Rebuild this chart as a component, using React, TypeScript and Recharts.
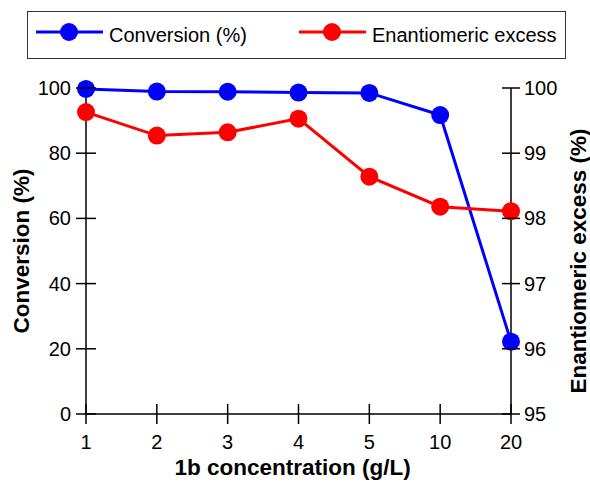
import { Line, LineChart, XAxis, YAxis } from 'recharts';

const concentrations = ['1', '2', '3', '4', '5', '10', '20'];
const conversionValues = [99.7, 98.9, 98.85, 98.6, 98.5, 91.7, 22.2];
const eeValues = [99.63, 99.27, 99.32, 99.53, 98.64, 98.18, 98.11];
const conversionTicks = [0, 20, 40, 60, 80, 100];
const eeTicks = [95, 96, 97, 98, 99, 100];
const seriesNames = ['Conversion (%)', 'Enantiomeric excess'];
const seriesColors = ['#0000ff', '#ff0000'];

const data = concentrations.map((c, i) => ({
  conc: c,
  conversion: conversionValues[i],
  ee: eeValues[i],
}));

const FONT = '"Liberation Sans", Arial, sans-serif';
const INK = '#000';
const TICK_FONT = 20;
const TITLE_FONT = 22.5;

const XTick = ({ x, y, payload }: any) => (
  <g>
    <line x1={x} x2={x} y1={y - 10} y2={y + 10} stroke={INK} strokeWidth={1.5} />
    <text x={x} y={y + 28} textAnchor="middle" dominantBaseline="central" fontSize={TICK_FONT} fontFamily={FONT} fill={INK}>
      {payload.value}
    </text>
  </g>
);

const LeftTick = ({ x, y, payload }: any) => (
  <g>
    <line x1={x - 10} x2={x + 10} y1={y} y2={y} stroke={INK} strokeWidth={1.5} />
    <text x={x - 15} y={y} textAnchor="end" dominantBaseline="central" fontSize={TICK_FONT} fontFamily={FONT} fill={INK}>
      {payload.value}
    </text>
  </g>
);

const RightTick = ({ x, y, payload }: any) => (
  <g>
    <line x1={x - 9} x2={x + 9} y1={y} y2={y} stroke={INK} strokeWidth={1.5} />
    <text x={x + 13} y={y} textAnchor="start" dominantBaseline="central" fontSize={TICK_FONT} fontFamily={FONT} fill={INK}>
      {payload.value}
    </text>
  </g>
);

const axisTitle = (text: string, dx: number, rotate: boolean, dy = 0) => ({ viewBox }: any) => {
  const cx = viewBox.x + dx;
  const cy = rotate ? viewBox.y + viewBox.height / 2 + dy : viewBox.y + dy;
  return (
    <text
      x={cx}
      y={cy}
      textAnchor="middle"
      dominantBaseline="central"
      fontSize={TITLE_FONT}
      fontWeight="bold"
      fontFamily={FONT}
      fill={INK}
      transform={rotate ? `rotate(-90 ${cx} ${cy})` : undefined}
    >
      {text}
    </text>
  );
};

const LegendBox = () => (
  <div
    style={{
      position: 'absolute',
      left: 27,
      top: 11,
      width: 539,
      height: 48,
      border: '1.5px solid #333',
      boxSizing: 'border-box',
      fontFamily: FONT,
      fontSize: 20,
      color: INK,
    }}
  >
    {seriesNames.map((name, i) => {
      const left = i === 0 ? 8 : 271;
      return (
        <div key={name} style={{ position: 'absolute', left, top: 0, height: 44, display: 'flex', alignItems: 'center' }}>
          <svg width={68} height={24} style={{ marginTop: -5 }}>
            <line x1={0} x2={67} y1={12} y2={12} stroke={seriesColors[i]} strokeWidth={3} />
            <circle cx={33} cy={12} r={9} fill={seriesColors[i]} />
          </svg>
          <span style={{ marginLeft: 5, marginTop: 2 }}>{name}</span>
        </div>
      );
    })}
  </div>
);

export default function App() {
  return (
    <div style={{ position: 'absolute', left: 0, top: 0, width: 590, height: 483, background: '#fff' }}>
      <LineChart width={590} height={483} data={data} margin={{ top: 88, right: 0, bottom: 0, left: 0 }}>
        <XAxis
          dataKey="conc"
          interval={0}
          height={69}
          tickSize={0}
          tickMargin={0}
          tickLine={false}
          axisLine={{ stroke: INK, strokeWidth: 1.5 }}
          tick={<XTick />}
          label={{ content: axisTitle('1b concentration (g/L)', 212.5 - 6, false, 53) }}
        />
        <YAxis
          yAxisId="left"
          width={86}
          domain={[0, 100]}
          ticks={conversionTicks}
          tickSize={0}
          tickMargin={0}
          tickLine={false}
          axisLine={{ stroke: INK, strokeWidth: 1.5 }}
          tick={<LeftTick />}
          label={{ content: axisTitle('Conversion (%)', 21, true) }}
        />
        <YAxis
          yAxisId="right"
          orientation="right"
          width={79}
          domain={[95, 100]}
          ticks={eeTicks}
          tickSize={0}
          tickMargin={0}
          tickLine={false}
          axisLine={{ stroke: INK, strokeWidth: 1.5 }}
          tick={<RightTick />}
          label={{ content: axisTitle('Enantiomeric excess (%)', 67, true, 10) }}
        />
        <Line
          yAxisId="left"
          dataKey="conversion"
          name={seriesNames[0]}
          stroke={seriesColors[0]}
          strokeWidth={3}
          dot={{ r: 9, fill: seriesColors[0], stroke: 'none' }}
          isAnimationActive={false}
        />
        <Line
          yAxisId="right"
          dataKey="ee"
          name={seriesNames[1]}
          stroke={seriesColors[1]}
          strokeWidth={3}
          dot={{ r: 9, fill: seriesColors[1], stroke: 'none' }}
          isAnimationActive={false}
        />
      </LineChart>
      <LegendBox />
    </div>
  );
}
